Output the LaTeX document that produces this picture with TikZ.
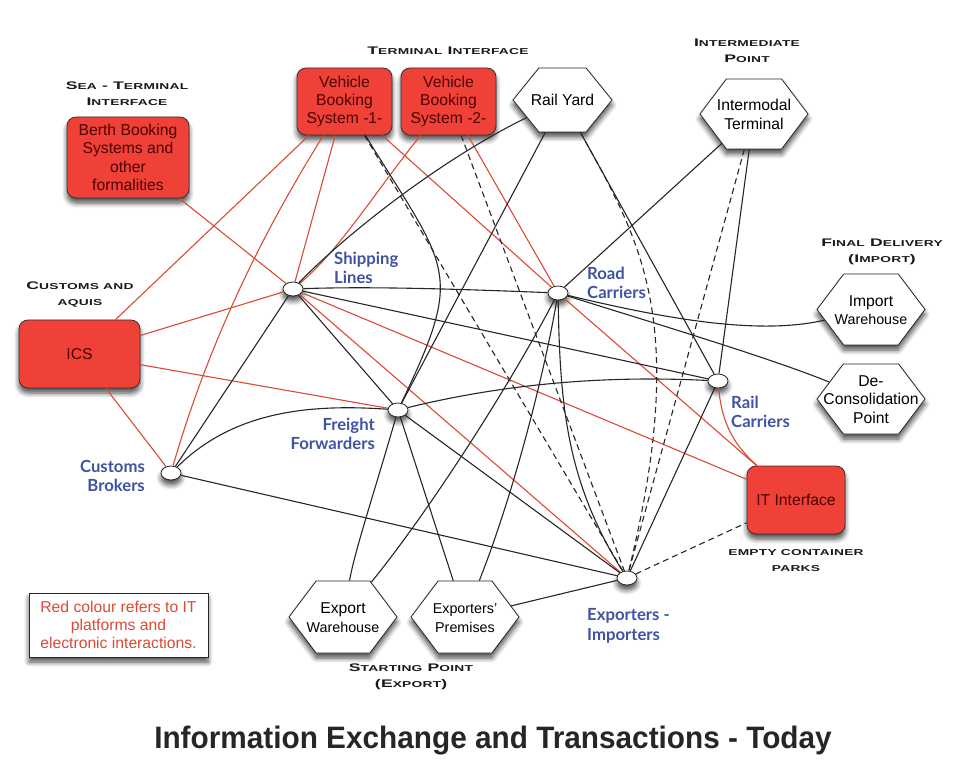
\documentclass[tikz,border=0pt]{standalone}
\usepackage{fontspec}
\setmainfont{Liberation Sans}
\newfontfamily\labelfont{Lato}
\newfontfamily\headfont[FakeStretch=1.6,LetterSpace=3]{Liberation Sans}
\newfontfamily\titlefont[FakeStretch=0.96]{Liberation Sans}
\usepackage{tikz}
\usetikzlibrary{shapes.geometric,shapes.symbols,shadows.blur}
\definecolor{boxred}{HTML}{F04138}
\definecolor{linered}{HTML}{DB4A35}
\definecolor{labelblue}{HTML}{3F53A3}
\newcommand{\smalltxt}[1]{{\fontsize{14.3}{17}\selectfont #1}}
\newcommand{\hcap}[2]{{\fontsize{11}{16}\selectfont #1}{\fontsize{8.6}{16}\selectfont #2}}
\newcommand{\hextxt}[1]{\makebox[0pt]{\raisebox{-5.9pt}[0pt][0pt]{\begin{tabular}{@{}c@{}}#1\end{tabular}}}}
\tikzset{
    softshadow/.style={blur shadow={shadow xshift=0pt, shadow yshift=-5pt, shadow blur steps=6, shadow blur radius=5pt, shadow opacity=70}},
    redbox/.style={draw=black!80, fill=boxred, text=red!30!black, rounded corners=9pt, thick, softshadow,
        align=center, inner sep=0pt, font=\fontsize{15.7}{18.3}\selectfont},
    hexbox/.style={signal, signal to=east and west, signal pointer angle=106, draw=black!85, fill=white, thick, softshadow,
        align=center, inner sep=0pt, font=\fontsize{15.7}{18.3}\selectfont},
    party/.style={ellipse, draw=black!85, fill=white, thick, softshadow, minimum width=20pt, minimum height=14pt, inner sep=0pt},
    partylabel/.style={text=labelblue, align=left, inner sep=0pt, font=\labelfont\bfseries\fontsize{16.7}{19.5}\selectfont},
    headlabel/.style={align=center, text=black!90, inner sep=0pt, font=\headfont\bfseries\fontsize{11}{16}\selectfont},
    redline/.style={draw=linered, line width=1.1pt},
    blackline/.style={draw=black!85, line width=1.1pt},
    dashline/.style={draw=black!85, line width=1.1pt, dash pattern=on 6pt off 4pt}
}
\begin{document}
\begin{tikzpicture}[x=1pt, y=-1pt]
    \useasboundingbox (0,0) rectangle (974,775);
    \node[redbox, minimum width=122pt, minimum height=81pt] (berth) at (128,157.5) {Berth Booking\\Systems and\\other\\formalities};
    \node[redbox, minimum width=95pt, minimum height=67pt] (veh1) at (344.5,101.5) {Vehicle\\Booking\\System -1-};
    \node[redbox, minimum width=95pt, minimum height=67pt] (veh2) at (448.5,101.5) {Vehicle\\Booking\\System -2-};
    \node[redbox, minimum width=121pt, minimum height=68pt] (ics) at (79.5,354) {ICS};
    \node[redbox, minimum width=98pt, minimum height=68pt] (itif) at (796,500) {IT Interface};
    \node[hexbox, minimum width=99pt, minimum height=64pt, signal pointer angle=102] (railyard) at (562.5,100) {\hextxt{Rail Yard}};
    \node[hexbox, minimum width=108pt, minimum height=70pt] (intermodal) at (754,114) {\hextxt{Intermodal\\Terminal}};
    \node[hexbox, minimum width=108pt, minimum height=71pt] (importw) at (871,309.5) {\hextxt{Import\\\smalltxt{Warehouse}}};
    \node[hexbox, minimum width=108pt, minimum height=70pt] (decons) at (871,399) {\hextxt{De-\\Consolidation\\Point}};
    \node[hexbox, minimum width=108pt, minimum height=72pt] (exportw) at (343,617) {\hextxt{Export\\\smalltxt{Warehouse}}};
    \node[hexbox, minimum width=108pt, minimum height=72pt] (exporterp) at (465,617) {\hextxt{\smalltxt{Exporters'}\\\smalltxt{Premises}}};
    \node[party] (ship) at (293,289) {};
    \node[party] (road) at (558,293) {};
    \node[party] (rail) at (718,381) {};
    \node[party] (freight) at (398,410) {};
    \node[party] (broker) at (171,473) {};
    \node[party] (exporter) at (627,578) {};
    \draw[redline] (berth) -- (ship);
    \draw[redline] (veh1) -- (ics);
    \draw[redline] (veh1) .. controls (280,205) and (215,320) .. (broker);
    \draw[redline] (veh1) -- (ship);
    \draw[redline] (veh1) -- (road);
    \draw[redline] (veh2) .. controls (380,185) and (340,250) .. (ship);
    \draw[redline] (veh2) -- (road);
    \draw[redline] (ics) -- (ship);
    \draw[redline] (ics) -- (freight);
    \draw[redline] (ics) -- (broker);
    \draw[redline] (ship) -- (exporter);
    \draw[redline] (ship) -- (itif);
    \draw[redline] (road) -- (itif);
    \draw[redline] (rail) .. controls (722,425) and (735,446) .. (itif);
    \draw[blackline] (veh1) .. controls (449,271) and (465,270) .. (freight);
    \draw[blackline] (railyard) .. controls (440,160) and (345,235) .. (ship);
    \draw[blackline] (railyard) -- (freight);
    \draw[blackline] (railyard) -- (rail);
    \draw[blackline] (intermodal) -- (road);
    \draw[blackline] (intermodal) -- (rail);
    \draw[blackline] (ship) .. controls (380,286) and (480,290) .. (road);
    \draw[blackline] (ship) -- (rail);
    \draw[blackline] (ship) -- (broker);
    \draw[blackline] (ship) -- (freight);
    \draw[blackline] (broker) .. controls (230,415) and (300,403) .. (freight);
    \draw[blackline] (broker) -- (exporter);
    \draw[blackline] (freight) .. controls (500,385) and (600,375) .. (rail);
    \draw[blackline] (freight) -- (exporter);
    \draw[blackline] (freight) .. controls (375,490) and (355,550) .. (exportw);
    \draw[blackline] (freight) -- (exporterp);
    \draw[blackline] (road) .. controls (510,385) and (430,510) .. (exportw);
    \draw[blackline] (road) .. controls (545,370) and (515,490) .. (exporterp);
    \draw[blackline] (road) .. controls (560,400) and (565,480) .. (exporter);
    \draw[blackline] (road) .. controls (670,320) and (760,335) .. (importw);
    \draw[blackline] (road) .. controls (660,325) and (770,358) .. (decons);
    \draw[blackline] (rail) -- (exporter);
    \draw[blackline] (exporterp) -- (exporter);
    \draw[dashline] (veh1) -- (exporter);
    \draw[dashline] (veh2) -- (exporter);
    \draw[dashline] (railyard) .. controls (640,240) and (690,320) .. (exporter);
    \draw[dashline] (intermodal) -- (exporter);
    \draw[dashline] (exporter) -- (itif);
    \node[draw=black!85, fill=white, thick, softshadow, text=linered, align=center, minimum width=179pt, minimum height=64pt, inner sep=0pt,
        font=\fontsize{15.7}{18.3}\selectfont] (legend) at (118.5,625) {Red colour refers to IT\\platforms and\\electronic interactions.};
    \node[partylabel, anchor=west] (shiplabel) at (334,268) {Shipping\\Lines};
    \node[partylabel, anchor=west] (roadlabel) at (587,283) {Road\\Carriers};
    \node[partylabel, anchor=west] (raillabel) at (731,412) {Rail\\Carriers};
    \node[partylabel, anchor=east, align=right] (freightlabel) at (375,434) {Freight\\Forwarders};
    \node[partylabel, anchor=east, align=right] (brokerlabel) at (145,476) {Customs\\Brokers};
    \node[partylabel, anchor=west] (exporterlabel) at (587,626) {Exporters -\\Importers};
    \node[headlabel] (seahead) at (127,94) {\hcap{S}{EA} - \hcap{T}{ERMINAL}\\\hcap{I}{NTERFACE}};
    \node[headlabel] (termhead) at (448,51) {\hcap{T}{ERMINAL} \hcap{I}{NTERFACE}};
    \node[headlabel] (interhead) at (747,50.5) {\hcap{I}{NTERMEDIATE}\\\hcap{P}{OINT}};
    \node[headlabel] (finalhead) at (882,252) {\hcap{F}{INAL} \hcap{D}{ELIVERY}\\\hcap{(I}{MPORT}\hcap{)}{}};
    \node[headlabel] (customshead) at (80,295) {\hcap{C}{USTOMS AND}\\\hcap{}{AQUIS}};
    \node[headlabel] (emptyhead) at (796,561) {\hcap{}{EMPTY CONTAINER}\\\hcap{}{PARKS}};
    \node[headlabel] (starthead) at (411,677) {\hcap{S}{TARTING} \hcap{P}{OINT}\\\hcap{(E}{XPORT}\hcap{)}{}};
    \node[text=black!85, font=\titlefont\bfseries\fontsize{31}{31}\selectfont] (title) at (493,741) {Information Exchange and Transactions - Today};
\end{tikzpicture}
\end{document}
